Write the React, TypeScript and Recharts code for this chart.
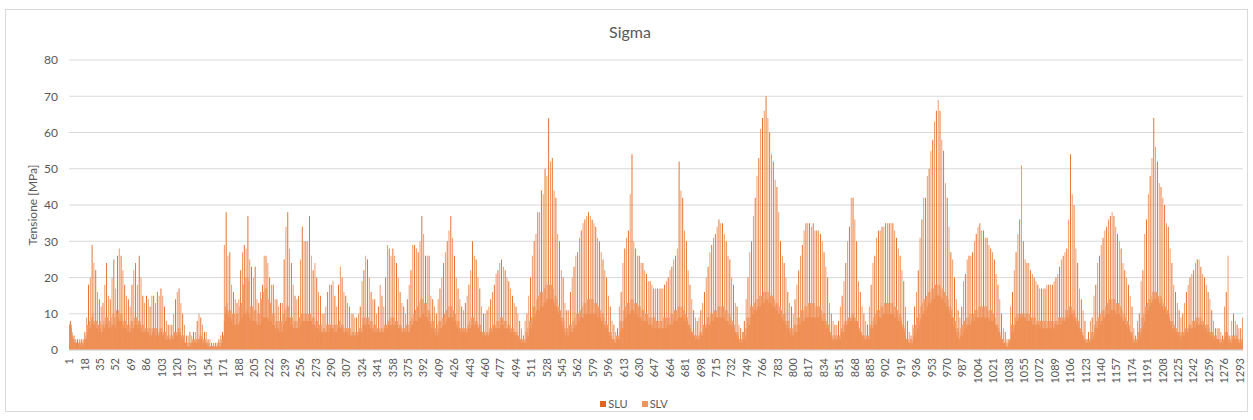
import { Bar, BarChart, CartesianGrid, XAxis, YAxis } from "recharts";

// Sigma — SLU / SLV stress per element (1296 elements)

const slu0001 = [
  7, 8, 6, 4, 3, 4, 2, 2, 2, 3, 1, 2, 1, 3, 2, 1, 2, 5, 3, 3,
  5, 18, 6, 6, 7, 29, 8, 7, 7, 22, 6, 6, 5, 14, 6, 5, 5, 13, 6, 6,
  7, 24, 7, 6, 6, 14, 6, 7, 7, 25, 7, 6, 8, 26, 9, 8, 8, 26, 8, 7,
  6, 18, 6, 6, 5, 14, 5, 5, 6, 18, 6, 6, 7, 24, 7, 6, 7, 26, 7, 6,
  5, 15, 5, 5, 5, 15, 5, 5, 4, 12, 4, 4, 5, 15, 5, 4, 4, 16, 4, 4,
];
const slu0101 = [
  5, 17, 5, 4, 4, 12, 3, 3, 3, 7, 3, 3, 3, 7, 3, 3, 4, 14, 4, 4,
  5, 17, 5, 4, 3, 10, 3, 2, 2, 4, 1, 1, 1, 5, 1, 2, 2, 5, 2, 2,
  2, 8, 2, 3, 3, 9, 3, 2, 2, 5, 2, 2, 1, 3, 1, 1, 1, 2, 1, 1,
  1, 2, 1, 1, 1, 3, 1, 1, 2, 5, 3, 8, 10, 38, 11, 10, 9, 27, 9, 8,
  7, 16, 7, 7, 7, 13, 7, 7, 8, 22, 9, 9, 10, 29, 10, 10, 11, 37, 10, 9,
];
const slu0201 = [
  8, 23, 8, 8, 8, 23, 8, 7, 7, 13, 7, 7, 8, 18, 9, 9, 9, 26, 9, 9,
  8, 20, 8, 8, 7, 18, 7, 6, 6, 14, 6, 6, 5, 13, 5, 5, 7, 25, 8, 8,
  9, 38, 9, 9, 7, 24, 7, 6, 6, 15, 6, 6, 6, 15, 6, 7, 8, 34, 8, 8,
  8, 30, 8, 8, 8, 37, 8, 8, 7, 22, 7, 7, 6, 20, 6, 6, 5, 15, 5, 5,
  5, 10, 5, 5, 5, 16, 5, 5, 6, 18, 6, 6, 5, 15, 5, 5, 6, 18, 6, 6,
];
const slu0301 = [
  6, 20, 6, 5, 5, 15, 5, 5, 4, 12, 4, 4, 4, 10, 4, 4, 4, 9, 4, 4,
  5, 12, 5, 5, 7, 22, 7, 7, 7, 25, 7, 7, 6, 16, 6, 6, 5, 14, 5, 5,
  5, 12, 5, 5, 5, 15, 5, 5, 6, 20, 6, 6, 7, 28, 7, 7, 7, 28, 7, 7,
  7, 24, 7, 6, 6, 16, 6, 5, 5, 12, 5, 5, 5, 14, 5, 5, 6, 22, 7, 7,
  8, 29, 8, 8, 8, 27, 9, 9, 9, 37, 10, 10, 9, 26, 9, 9, 8, 26, 8, 7,
];
const slu0401 = [
  6, 14, 6, 5, 4, 10, 4, 5, 6, 17, 6, 6, 7, 24, 7, 7, 8, 30, 9, 9,
  9, 37, 9, 9, 8, 26, 8, 7, 6, 17, 6, 6, 5, 12, 5, 5, 5, 13, 5, 5,
  6, 18, 6, 6, 7, 30, 7, 7, 7, 25, 7, 6, 6, 17, 5, 5, 4, 10, 4, 4,
  4, 11, 4, 4, 5, 14, 5, 5, 6, 18, 6, 6, 6, 22, 6, 6, 7, 25, 7, 7,
  6, 22, 6, 6, 6, 19, 6, 5, 5, 15, 5, 5, 4, 12, 4, 4, 3, 8, 3, 2,
];
const slu0501 = [
  2, 4, 2, 2, 3, 10, 4, 4, 6, 20, 6, 7, 9, 30, 9, 10, 11, 38, 11, 11,
  12, 44, 12, 12, 13, 50, 13, 14, 14, 64, 14, 14, 14, 53, 14, 13, 12, 42, 12, 11,
  10, 30, 9, 8, 7, 20, 6, 5, 4, 11, 4, 4, 5, 16, 5, 5, 6, 23, 6, 7,
  7, 27, 8, 8, 9, 33, 9, 9, 10, 36, 10, 10, 10, 38, 10, 10, 10, 36, 10, 10,
  10, 34, 10, 9, 9, 30, 9, 8, 8, 25, 7, 7, 6, 20, 6, 5, 4, 12, 4, 3,
];
const slu0601 = [
  3, 7, 2, 2, 3, 6, 3, 3, 5, 16, 6, 6, 8, 28, 9, 9, 10, 33, 10, 10,
  11, 54, 11, 11, 10, 28, 10, 10, 9, 26, 9, 9, 8, 24, 8, 8, 8, 21, 8, 7,
  7, 19, 7, 7, 6, 17, 6, 6, 6, 17, 6, 6, 6, 17, 6, 6, 6, 18, 6, 6,
  7, 20, 7, 7, 7, 23, 7, 8, 8, 26, 8, 8, 9, 52, 9, 9, 9, 42, 9, 8,
  8, 30, 8, 7, 6, 18, 5, 5, 4, 11, 4, 3, 3, 8, 3, 3, 4, 11, 4, 4,
];
const slu0701 = [
  6, 16, 6, 6, 7, 23, 7, 7, 8, 29, 8, 8, 9, 32, 9, 9, 9, 36, 9, 9,
  9, 35, 9, 9, 8, 30, 8, 8, 7, 25, 7, 7, 6, 18, 6, 5, 4, 12, 4, 3,
  2, 6, 2, 2, 3, 8, 3, 4, 6, 20, 7, 7, 9, 30, 10, 10, 11, 42, 11, 11,
  12, 53, 12, 12, 13, 64, 13, 13, 14, 70, 14, 14, 13, 60, 13, 13, 12, 52, 12, 12,
  11, 45, 11, 10, 10, 30, 9, 9, 8, 24, 8, 7, 6, 16, 6, 5, 4, 12, 4, 4,
];
const slu0801 = [
  5, 14, 5, 5, 7, 22, 7, 7, 8, 29, 8, 8, 9, 35, 9, 9, 9, 35, 9, 9,
  9, 35, 9, 9, 9, 33, 9, 9, 9, 32, 9, 8, 8, 27, 8, 7, 6, 20, 6, 5,
  4, 10, 3, 3, 3, 7, 3, 3, 3, 8, 3, 3, 5, 15, 5, 5, 7, 24, 7, 7,
  8, 34, 8, 8, 9, 42, 9, 8, 8, 30, 8, 7, 5, 16, 5, 4, 4, 10, 3, 3,
  3, 7, 3, 3, 6, 18, 6, 6, 7, 26, 7, 7, 9, 33, 9, 9, 9, 34, 10, 10,
];
const slu0901 = [
  10, 35, 10, 10, 10, 35, 10, 10, 10, 35, 10, 9, 9, 31, 9, 8, 8, 26, 8, 7,
  6, 19, 5, 4, 3, 8, 2, 2, 2, 4, 2, 2, 4, 12, 4, 5, 6, 22, 7, 8,
  9, 36, 10, 10, 11, 42, 11, 12, 13, 50, 13, 13, 14, 58, 14, 14, 15, 66, 15, 15,
  15, 66, 15, 14, 14, 55, 13, 13, 12, 42, 12, 11, 10, 27, 9, 9, 7, 20, 6, 5,
  4, 11, 3, 3, 4, 12, 4, 5, 6, 21, 6, 7, 7, 26, 7, 7, 8, 27, 8, 8,
];
const slu1001 = [
  9, 32, 9, 9, 9, 35, 9, 9, 9, 33, 9, 9, 9, 31, 9, 9, 8, 28, 8, 8,
  8, 25, 7, 7, 6, 18, 5, 5, 3, 10, 3, 2, 2, 5, 1, 1, 1, 3, 2, 3,
  5, 16, 5, 6, 7, 27, 8, 8, 9, 36, 9, 9, 9, 30, 9, 9, 8, 24, 8, 8,
  8, 22, 8, 7, 7, 20, 7, 7, 7, 18, 7, 7, 6, 17, 6, 6, 6, 17, 6, 6,
  6, 18, 6, 6, 6, 18, 6, 6, 7, 20, 7, 7, 7, 23, 7, 7, 8, 26, 8, 8,
];
const slu1101 = [
  9, 28, 9, 9, 10, 54, 10, 10, 9, 40, 9, 8, 7, 24, 6, 6, 5, 14, 4, 4,
  3, 8, 2, 2, 2, 5, 2, 2, 3, 9, 3, 4, 6, 18, 6, 6, 7, 26, 7, 8,
  8, 31, 9, 9, 10, 34, 10, 10, 10, 37, 11, 11, 11, 37, 11, 10, 10, 32, 10, 10,
  9, 28, 9, 8, 8, 22, 7, 7, 6, 18, 6, 5, 4, 12, 3, 2, 2, 4, 2, 2,
  3, 10, 4, 5, 6, 22, 7, 8, 10, 36, 11, 11, 12, 48, 13, 13, 14, 64, 14, 14,
];
const slu1201 = [
  14, 52, 14, 13, 13, 45, 12, 12, 11, 40, 11, 10, 10, 34, 9, 8, 7, 24, 6, 6,
  5, 16, 5, 5, 4, 11, 4, 3, 4, 10, 4, 4, 5, 16, 5, 5, 6, 20, 6, 6,
  6, 22, 6, 6, 7, 25, 7, 7, 7, 23, 7, 7, 6, 20, 6, 6, 5, 16, 5, 5,
  4, 11, 4, 3, 3, 6, 3, 3, 3, 6, 2, 2, 2, 4, 2, 3, 4, 16, 5, 4,
  2, 4, 2, 2, 3, 10, 3, 3, 3, 7, 3, 2, 2, 6, 2, 3,
];

const slv0001 = [
  7, 6, 7, 5, 3, 2, 3, 3, 2, 1, 2, 3, 2, 2, 1, 3, 3, 3, 4, 9,
  7, 7, 8, 20, 9, 9, 10, 24, 8, 8, 8, 16, 7, 7, 8, 12, 7, 7, 8, 18,
  9, 9, 9, 15, 8, 8, 9, 20, 10, 10, 9, 17, 11, 10, 11, 28, 10, 10, 10, 22,
  8, 8, 8, 15, 7, 7, 7, 12, 8, 8, 8, 22, 9, 9, 9, 18, 8, 8, 8, 20,
  7, 7, 7, 13, 6, 6, 6, 14, 6, 6, 6, 15, 6, 5, 6, 13, 6, 5, 5, 15,
];
const slv0101 = [
  6, 6, 6, 15, 5, 5, 5, 8, 4, 4, 4, 7, 4, 4, 4, 10, 5, 5, 5, 16,
  6, 6, 6, 13, 4, 4, 4, 7, 2, 2, 2, 4, 2, 2, 2, 4, 3, 3, 3, 5,
  3, 3, 3, 10, 4, 4, 4, 7, 3, 3, 3, 5, 2, 2, 2, 3, 1, 1, 1, 2,
  1, 1, 1, 2, 2, 2, 2, 4, 3, 3, 4, 29, 12, 12, 13, 26, 11, 11, 11, 18,
  10, 10, 10, 14, 10, 10, 10, 14, 12, 12, 13, 27, 18, 18, 20, 28, 20, 20, 19, 25,
];
const slv0201 = [
  12, 12, 12, 20, 11, 11, 11, 14, 10, 10, 10, 16, 14, 14, 16, 26, 17, 17, 17, 24,
  14, 14, 13, 18, 10, 10, 10, 14, 8, 8, 8, 12, 8, 8, 8, 13, 10, 10, 11, 34,
  12, 12, 12, 28, 9, 9, 9, 18, 8, 8, 8, 14, 8, 8, 9, 25, 10, 10, 10, 30,
  10, 10, 10, 30, 10, 10, 10, 26, 9, 9, 9, 24, 8, 8, 8, 16, 7, 7, 7, 10,
  6, 6, 6, 12, 7, 7, 7, 18, 7, 7, 7, 19, 7, 7, 7, 12, 7, 7, 8, 23,
];
const slv0301 = [
  7, 7, 7, 16, 6, 6, 6, 13, 6, 6, 6, 10, 5, 5, 5, 9, 5, 5, 5, 10,
  6, 6, 6, 19, 9, 9, 9, 26, 9, 9, 9, 20, 8, 8, 8, 14, 7, 7, 7, 10,
  6, 6, 6, 18, 6, 6, 6, 12, 7, 7, 7, 29, 8, 8, 9, 26, 9, 9, 9, 26,
  8, 8, 8, 20, 7, 7, 7, 13, 6, 6, 6, 10, 7, 7, 7, 18, 8, 8, 9, 29,
  10, 10, 11, 28, 12, 12, 13, 30, 14, 14, 14, 32, 13, 13, 13, 26, 11, 11, 10, 15,
];
const slv0401 = [
  8, 8, 8, 12, 6, 6, 7, 14, 8, 8, 8, 20, 9, 9, 10, 27, 11, 11, 12, 33,
  12, 12, 12, 31, 11, 11, 10, 20, 8, 8, 8, 14, 6, 6, 6, 11, 6, 6, 6, 15,
  7, 7, 8, 22, 9, 9, 9, 26, 8, 8, 8, 20, 7, 7, 7, 12, 5, 5, 5, 10,
  5, 5, 5, 12, 6, 6, 6, 16, 7, 7, 7, 21, 8, 8, 8, 24, 9, 9, 9, 23,
  8, 8, 8, 20, 7, 7, 7, 17, 6, 6, 6, 13, 5, 5, 5, 10, 4, 4, 3, 6,
];
const slv0501 = [
  3, 3, 3, 8, 5, 5, 6, 15, 8, 8, 9, 26, 12, 12, 12, 32, 14, 14, 15, 38,
  16, 16, 16, 43, 17, 17, 18, 48, 18, 18, 18, 52, 18, 18, 17, 44, 15, 15, 14, 32,
  12, 12, 11, 22, 9, 9, 8, 13, 6, 6, 6, 11, 7, 7, 7, 20, 8, 8, 9, 26,
  10, 10, 10, 31, 11, 11, 12, 35, 13, 13, 13, 37, 14, 14, 14, 37, 14, 14, 14, 35,
  13, 13, 13, 31, 12, 12, 11, 27, 10, 10, 9, 22, 8, 8, 7, 15, 5, 5, 5, 8,
];
const slv0601 = [
  3, 3, 3, 5, 4, 4, 4, 12, 8, 8, 8, 24, 11, 11, 12, 31, 13, 13, 13, 43,
  14, 14, 14, 30, 13, 13, 13, 26, 12, 12, 12, 24, 11, 11, 11, 22, 10, 10, 10, 19,
  9, 9, 9, 18, 9, 9, 9, 17, 8, 8, 8, 17, 8, 8, 8, 17, 9, 9, 9, 19,
  9, 9, 9, 22, 10, 10, 10, 25, 11, 11, 11, 28, 12, 12, 12, 44, 12, 12, 11, 33,
  10, 10, 9, 22, 7, 7, 6, 14, 5, 5, 4, 9, 4, 4, 4, 9, 5, 5, 5, 13,
];
const slv0701 = [
  7, 7, 7, 20, 9, 9, 9, 27, 10, 10, 10, 31, 11, 11, 11, 34, 12, 12, 12, 35,
  12, 12, 12, 32, 11, 11, 11, 26, 10, 10, 9, 20, 8, 8, 7, 13, 5, 5, 5, 7,
  3, 3, 3, 5, 5, 5, 6, 14, 9, 9, 9, 27, 12, 12, 12, 37, 13, 13, 14, 48,
  14, 14, 15, 61, 15, 15, 16, 66, 16, 16, 16, 64, 16, 16, 15, 54, 15, 15, 14, 47,
  13, 13, 13, 38, 12, 12, 11, 26, 10, 10, 10, 20, 8, 8, 8, 13, 6, 6, 6, 10,
];
const slv0801 = [
  7, 7, 7, 18, 9, 9, 9, 26, 11, 11, 11, 33, 12, 12, 12, 35, 13, 13, 13, 34,
  13, 13, 13, 33, 12, 12, 12, 33, 12, 12, 11, 30, 10, 10, 10, 23, 8, 8, 7, 13,
  5, 5, 4, 8, 4, 4, 4, 7, 4, 4, 4, 12, 6, 6, 7, 19, 8, 8, 8, 30,
  9, 9, 9, 42, 10, 10, 10, 36, 9, 9, 8, 19, 6, 6, 5, 12, 4, 4, 4, 8,
  4, 4, 4, 12, 7, 7, 8, 24, 9, 9, 10, 31, 11, 11, 11, 33, 12, 12, 12, 34,
];
const slv0901 = [
  13, 13, 13, 35, 13, 13, 13, 35, 13, 13, 12, 33, 12, 12, 11, 28, 10, 10, 9, 22,
  7, 7, 6, 12, 3, 3, 3, 5, 3, 3, 3, 7, 6, 6, 7, 16, 9, 9, 10, 31,
  12, 12, 13, 42, 14, 14, 15, 48, 16, 16, 16, 55, 17, 17, 17, 63, 18, 18, 18, 69,
  18, 18, 17, 58, 17, 17, 16, 46, 15, 15, 14, 34, 12, 12, 11, 25, 9, 9, 8, 14,
  6, 6, 5, 9, 6, 6, 7, 19, 8, 8, 9, 25, 9, 9, 10, 26, 10, 10, 10, 30,
];
const slv1001 = [
  11, 11, 11, 34, 12, 12, 12, 33, 12, 12, 12, 31, 12, 12, 11, 29, 11, 11, 11, 27,
  10, 10, 9, 21, 7, 7, 6, 14, 4, 4, 3, 6, 2, 2, 2, 3, 2, 2, 3, 12,
  7, 7, 7, 22, 9, 9, 10, 32, 10, 10, 10, 51, 10, 10, 10, 25, 10, 10, 10, 24,
  10, 10, 9, 21, 9, 9, 9, 19, 8, 8, 8, 17, 8, 8, 8, 17, 8, 8, 8, 18,
  8, 8, 8, 18, 8, 8, 8, 19, 8, 8, 8, 21, 9, 9, 9, 25, 9, 9, 9, 27,
];
const slv1101 = [
  11, 11, 11, 36, 12, 12, 12, 43, 11, 11, 10, 28, 9, 9, 8, 17, 6, 6, 5, 11,
  3, 3, 3, 3, 3, 3, 3, 8, 5, 5, 5, 15, 7, 7, 8, 24, 9, 9, 10, 29,
  11, 11, 11, 33, 12, 12, 13, 36, 14, 14, 14, 38, 14, 14, 14, 34, 13, 13, 13, 30,
  12, 12, 11, 24, 10, 10, 9, 20, 8, 8, 7, 15, 5, 5, 4, 6, 3, 3, 3, 8,
  5, 5, 6, 19, 9, 9, 10, 32, 12, 12, 13, 43, 14, 14, 15, 53, 16, 16, 16, 56,
];
const slv1201 = [
  16, 16, 15, 46, 15, 15, 14, 42, 13, 13, 12, 35, 11, 11, 10, 28, 8, 8, 8, 18,
  7, 7, 6, 13, 5, 5, 5, 9, 5, 5, 5, 13, 6, 6, 6, 18, 7, 7, 7, 21,
  8, 8, 8, 24, 9, 9, 9, 25, 9, 9, 8, 21, 8, 8, 7, 18, 7, 7, 6, 14,
  5, 5, 5, 8, 4, 4, 4, 6, 3, 3, 3, 5, 3, 3, 3, 12, 5, 5, 5, 26,
  3, 3, 3, 8, 4, 4, 4, 8, 4, 4, 3, 6, 3, 3, 3, 9,
];

const TICKS = [
  1, 18, 35, 52, 69, 86, 103, 120, 137, 154, 171, 188, 205, 222, 239, 256, 273,
  290, 307, 324, 341, 358, 375, 392, 409, 426, 443, 460, 477, 494, 511, 528, 545,
  562, 579, 596, 613, 630, 647, 664, 681, 698, 715, 732, 749, 766, 783, 800, 817,
  834, 851, 868, 885, 902, 919, 936, 953, 970, 987, 1004, 1021, 1038, 1055, 1072,
  1089, 1106, 1123, 1140, 1157, 1174, 1191, 1208, 1225, 1242, 1259, 1276, 1293,
];
const Y_TICKS = [0, 10, 20, 30, 40, 50, 60, 70, 80];

const SLU = [
  ...slu0001, ...slu0101, ...slu0201, ...slu0301, ...slu0401, ...slu0501, ...slu0601,
  ...slu0701, ...slu0801, ...slu0901, ...slu1001, ...slu1101, ...slu1201,
];
const SLV = [
  ...slv0001, ...slv0101, ...slv0201, ...slv0301, ...slv0401, ...slv0501, ...slv0601,
  ...slv0701, ...slv0801, ...slv0901, ...slv1001, ...slv1101, ...slv1201,
];

const data = SLU.map((v, i) => ({ cat: i + 1, SLU: v, SLV: SLV[i] ?? 0 }));

const TEXT = "#595959";
const GRID = "#d9d9d9";
const SLU_COLOR = "#e4661d";
const SLV_COLOR = "#f0935a";

/** Vertical category label, reading bottom-to-top like Excel. */
function XTick({ x = 0, y = 0, payload }: { x?: number; y?: number; payload?: { value?: number } }) {
  return (
    <text
      x={x}
      y={y}
      dy="0.35em"
      textAnchor="end"
      transform={`rotate(-90, ${x}, ${y})`}
      fontSize={11}
      fill={TEXT}
    >
      {payload?.value}
    </text>
  );
}

export default function App() {
  return (
    <div
      style={{
        position: "absolute",
        left: 0,
        top: 0,
        width: 1253,
        height: 420,
        background: "#fff",
        fontFamily: "Lato, 'Open Sans', sans-serif",
      }}
    >
      <div
        style={{
          position: "absolute",
          left: 5,
          top: 9,
          width: 1243,
          height: 403,
          border: `1px solid ${GRID}`,
          boxSizing: "border-box",
        }}
      />
      <BarChart
        width={1253}
        height={420}
        data={data}
        margin={{ top: 60, right: 10, bottom: 30, left: 39 }}
        barCategoryGap={0}
        barGap="-100%"
        style={{ position: "absolute", left: 0, top: 0 }}
      >
        <CartesianGrid vertical={false} stroke={GRID} />
        <XAxis
          dataKey="cat"
          ticks={TICKS}
          interval={0}
          height={40}
          tickLine={false}
          tickSize={0}
          tickMargin={8}
          axisLine={{ stroke: GRID }}
          tick={<XTick />}
        />
        <YAxis
          width={30}
          domain={[0, 80]}
          ticks={Y_TICKS}
          axisLine={false}
          tickLine={false}
          tickSize={0}
          tickMargin={11}
          tick={{ fontSize: 12, fill: TEXT }}
        />
        <Bar dataKey="SLU" fill={SLU_COLOR} isAnimationActive={false} />
        <Bar dataKey="SLV" fill={SLV_COLOR} isAnimationActive={false} />
      </BarChart>
      <div
        style={{
          position: "absolute",
          left: 0,
          width: 1260,
          top: 22,
          textAlign: "center",
          fontSize: 16,
          color: TEXT,
        }}
      >
        Sigma
      </div>
      <div
        style={{
          position: "absolute",
          left: 32,
          top: 205,
          transform: "translate(-50%, -50%) rotate(-90deg)",
          whiteSpace: "nowrap",
          fontSize: 12,
          color: TEXT,
        }}
      >
        Tensione [MPa]
      </div>
      <div
        style={{
          position: "absolute",
          left: 0,
          width: 1268,
          top: 397,
          display: "flex",
          justifyContent: "center",
          gap: 14,
          fontSize: 11,
          color: TEXT,
        }}
      >
        {[
          ["SLU", SLU_COLOR],
          ["SLV", SLV_COLOR],
        ].map(([name, color]) => (
          <div key={name} style={{ display: "flex", alignItems: "center", gap: 2 }}>
            <span style={{ width: 6, height: 6, background: color, display: "inline-block" }} />
            <span>{name}</span>
          </div>
        ))}
      </div>
    </div>
  );
}
